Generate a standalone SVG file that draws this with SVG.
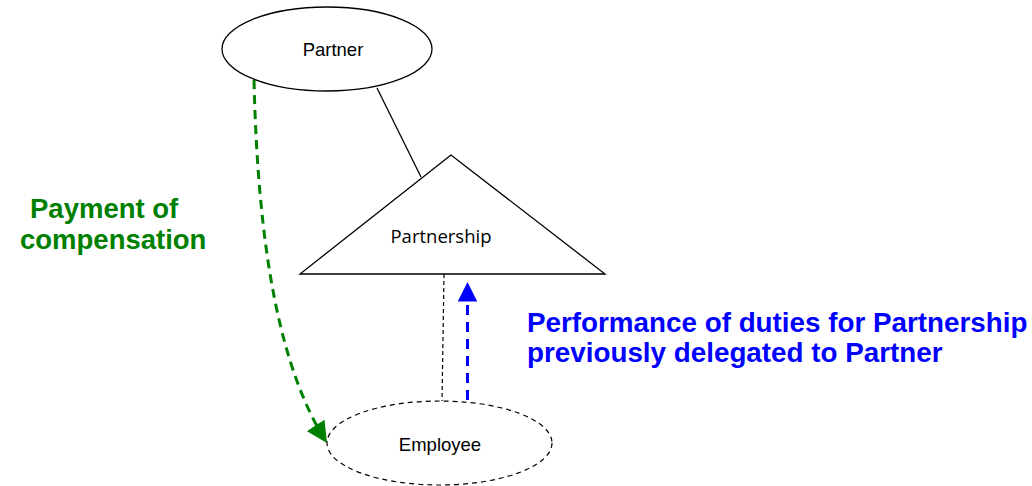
<svg xmlns="http://www.w3.org/2000/svg" width="1032" height="486" viewBox="0 0 1032 486">
<style>
.shape{fill:#fff;stroke:#000;stroke-width:1.3}
.lbl{font-family:"Liberation Sans",Arial,sans-serif;font-size:18.5px;fill:#000;text-anchor:middle}
.cal{font-family:"Open Sans","Liberation Sans",sans-serif;font-size:18.5px;fill:#000;text-anchor:middle}
.green{font-family:"Liberation Sans",Arial,sans-serif;font-weight:bold;font-size:27.5px;fill:#008000}
.blue{font-family:"Liberation Sans",Arial,sans-serif;font-weight:bold;font-size:27.8px;fill:#0000ff}
</style>
<defs>
<marker id="ag" viewBox="0 0 10 10" refX="10" refY="5" markerWidth="7" markerHeight="7" markerUnits="strokeWidth" orient="auto"><path d="M0,0 L10,5 L0,10 z" fill="#008000"/></marker>
<marker id="ab" viewBox="0 0 10 10" refX="10" refY="5" markerWidth="6.5" markerHeight="6.5" markerUnits="strokeWidth" orient="auto"><path d="M0,0 L10,5 L0,10 z" fill="#0000ff"/></marker>
</defs>
<g id="connectors">
<line x1="377" y1="88" x2="421" y2="177" stroke="#000" stroke-width="1.3"/>
<line x1="444" y1="274" x2="442" y2="401" stroke="#000" stroke-width="1.2" stroke-dasharray="4,3"/>
<path d="M254,80 C258,250 280,370 327,443" fill="none" stroke="#008000" stroke-width="3" stroke-dasharray="9,6" marker-end="url(#ag)"/>
<line x1="467.5" y1="400" x2="467.5" y2="282" stroke="#0000ff" stroke-width="3" stroke-dasharray="10,7" marker-end="url(#ab)"/>
</g>
<g id="partner">
<ellipse class="shape" cx="327" cy="49" rx="105" ry="42"/>
<text class="lbl" x="333" y="56">Partner</text>
</g>
<g id="partnership">
<polygon class="shape" points="451,155 300,274 605,274"/>
<text class="cal" x="441" y="243">Partnership</text>
</g>
<g id="employee">
<ellipse cx="439.5" cy="443" rx="112.5" ry="42" fill="#fff" stroke="#000" stroke-width="1.2" stroke-dasharray="5,4"/>
<text class="lbl" x="440" y="451">Employee</text>
</g>
<g id="labels">
<text class="green" x="30" y="218">Payment of</text>
<text class="green" x="20" y="249">compensation</text>
<text class="blue" x="527" y="332">Performance of duties for Partnership</text>
<text class="blue" x="527" y="362">previously delegated to Partner</text>
</g>
</svg>
